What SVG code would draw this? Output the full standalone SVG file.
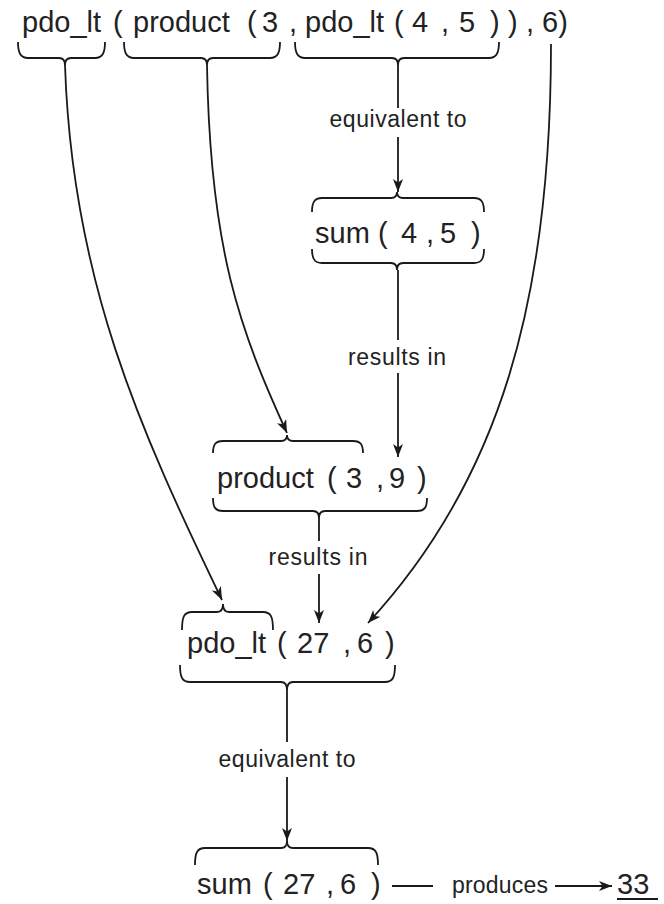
<svg xmlns="http://www.w3.org/2000/svg" width="664" height="904" viewBox="0 0 664 904">
<style>
.t{font-family:"Liberation Sans",Arial,sans-serif;font-size:29px;fill:#222}
.l{font-family:"Liberation Sans",Arial,sans-serif;font-size:23px;fill:#222}
.b{fill:none;stroke:#1a1a1a;stroke-width:1.8}
.c{fill:none;stroke:#1a1a1a;stroke-width:1.8}
</style>
<defs>
<marker id="ah" markerUnits="userSpaceOnUse" markerWidth="14" markerHeight="12" refX="13" refY="5" orient="auto">
<path d="M0,0 L13,5 L0,10 L3.5,5 z" fill="#1a1a1a"/>
</marker>
</defs>
<rect width="664" height="904" fill="#fff"/>

<g id="top-expression">
<text class="t" y="32"><tspan x="22">pdo_lt</tspan><tspan x="113">(</tspan><tspan x="133">product</tspan><tspan x="247">(</tspan><tspan x="262">3</tspan><tspan x="289">,</tspan><tspan x="305">pdo_lt</tspan><tspan x="394">(</tspan><tspan x="412">4</tspan><tspan x="441">,</tspan><tspan x="459">5</tspan><tspan x="490">)</tspan><tspan x="508">)</tspan><tspan x="526">,</tspan><tspan x="542">6)</tspan></text>
<path class="b" d="M18,42 C18,52 20,58 28,58 L59,58 C63,58 65,60 65,65 C65,60 67,58 71,58 L95,58 C103,58 105,52 105,42"/>
<path class="b" d="M124,42 C124,52 126,58 134,58 L201,58 C205,58 207,60 207,65 C207,60 209,58 213,58 L270,58 C278,58 280,52 280,42"/>
<path class="b" d="M295,42 C295,52 297,58 305,58 L392,58 C396,58 398,60 398,65 C398,60 400,58 404,58 L489,58 C497,58 499,52 499,42"/>
</g>

<g id="sum-4-5">
<path class="b" d="M312,212 C312,203 314,198 322,198 L391,198 C395,198 397,196 397,192 C397,196 399,198 403,198 L474,198 C482,198 484,203 484,212"/>
<text class="t" y="243"><tspan x="315">sum</tspan><tspan x="378">(</tspan><tspan x="401">4</tspan><tspan x="426">,</tspan><tspan x="440">5</tspan><tspan x="471">)</tspan></text>
<path class="b" d="M312,249 C312,258 314,263 322,263 L391,263 C395,263 397,265 397,270 C397,265 399,263 403,263 L474,263 C482,263 484,258 484,249"/>
</g>

<g id="product-3-9">
<path class="b" d="M213,453 C213,445 215,441 223,441 L281,441 C285,441 287,439 287,435 C287,439 289,441 293,441 L353,441 C361,441 363,445 363,453"/>
<text class="t" y="488"><tspan x="217">product</tspan><tspan x="327">(</tspan><tspan x="346">3</tspan><tspan x="376">,</tspan><tspan x="389">9</tspan><tspan x="417">)</tspan></text>
<path class="b" d="M213,498 C213,507 215,511 223,511 L313,511 C317,511 319,513 319,518 C319,513 321,511 325,511 L417,511 C425,511 427,507 427,498"/>
</g>

<g id="pdo_lt-27-6">
<path class="b" d="M182,630 C182,617 184,612 192,612 L217,612 C221,612 223,610 223,604 C223,610 225,612 229,612 L263,612 C271,612 273,617 273,630"/>
<text class="t" y="653"><tspan x="187">pdo_lt</tspan><tspan x="277">(</tspan><tspan x="297">27</tspan><tspan x="343">,</tspan><tspan x="357">6</tspan><tspan x="385">)</tspan></text>
<path class="b" d="M180,665 C180,677 182,682 190,682 L281,682 C285,682 287,684 287,690 C287,684 289,682 293,682 L385,682 C393,682 395,677 395,665"/>
</g>

<g id="sum-27-6">
<path class="b" d="M195,865 C195,853 197,848 205,848 L281,848 C285,848 287,846 287,841 C287,846 289,848 293,848 L368,848 C376,848 378,853 378,865"/>
<text class="t" y="894"><tspan x="197">sum</tspan><tspan x="263">(</tspan><tspan x="283">27</tspan><tspan x="326">,</tspan><tspan x="340">6</tspan><tspan x="371">)</tspan></text>
</g>

<g id="result-33">
<text class="t" x="617" y="894">33</text>
<line x1="617" y1="899" x2="658" y2="899" stroke="#1a1a1a" stroke-width="1.8"/>
</g>

<g id="connectors">
<path class="c" d="M65,65 C72,280 140,430 222,600" marker-end="url(#ah)"/>
<path class="c" d="M207,65 C210,250 240,330 287,433" marker-end="url(#ah)"/>
<path class="c" d="M551,44 C551,300 500,480 368,623" marker-end="url(#ah)"/>
<line class="c" x1="398" y1="65" x2="398" y2="108"/>
<line class="c" x1="398" y1="137" x2="398" y2="192" marker-end="url(#ah)"/>
<line class="c" x1="398" y1="270" x2="398" y2="340"/>
<line class="c" x1="398" y1="373" x2="398" y2="457" marker-end="url(#ah)"/>
<line class="c" x1="319" y1="518" x2="319" y2="541"/>
<line class="c" x1="319" y1="574" x2="319" y2="623" marker-end="url(#ah)"/>
<line class="c" x1="287" y1="690" x2="287" y2="742"/>
<line class="c" x1="287" y1="777" x2="287" y2="841" marker-end="url(#ah)"/>
<line class="c" x1="392" y1="886" x2="433" y2="886"/>
<line class="c" x1="555" y1="886" x2="612" y2="886" marker-end="url(#ah)"/>
<text class="l" x="398" y="127" text-anchor="middle" textLength="137">equivalent to</text>
<text class="l" x="397" y="365" text-anchor="middle" textLength="98">results in</text>
<text class="l" x="318" y="565" text-anchor="middle" textLength="99">results in</text>
<text class="l" x="287" y="767" text-anchor="middle" textLength="137">equivalent to</text>
<text class="l" x="500" y="893" text-anchor="middle" textLength="96">produces</text>
</g>
</svg>
